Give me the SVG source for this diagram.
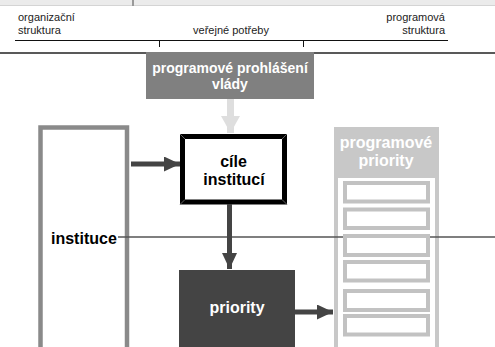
<svg xmlns="http://www.w3.org/2000/svg" width="495" height="347" viewBox="0 0 495 347">
<style>
.lbl{font-family:"Liberation Sans",Arial,sans-serif;font-size:11px;fill:#222}
.b{font-family:"Liberation Sans",Arial,sans-serif;font-weight:bold;font-size:16px}
.s14{font-size:14px}
.w{fill:#fff}
.k{fill:#000}
.item{fill:#fff;stroke:#c2c2c2;stroke-width:4}
</style>
<defs>
<marker id="ad" viewBox="0 0 16 15" refX="16" refY="7.5" markerWidth="16" markerHeight="15" markerUnits="userSpaceOnUse" orient="auto">
<path d="M0,0 L16,7.5 L0,15 Z" fill="#444"/>
</marker>
<marker id="al" viewBox="0 0 17 19" refX="17" refY="9.5" markerWidth="17" markerHeight="19" markerUnits="userSpaceOnUse" orient="auto">
<path d="M0,0 L17,9.5 L0,19 Z" fill="#dedede"/>
</marker>
</defs>
<rect width="495" height="347" fill="#fff"/>
<g id="topbar">
<rect x="0" y="0" width="495" height="5" fill="#ebebeb"/>
<line x1="0" y1="5.5" x2="495" y2="5.5" stroke="#d4d4d4" stroke-width="1"/>
<line x1="133" y1="0" x2="133" y2="6" stroke="#999" stroke-width="2"/>
</g>
<g id="header">
<text class="lbl" x="18" y="21">organizační</text>
<text class="lbl" x="18" y="34">struktura</text>
<text class="lbl" x="231" y="34" text-anchor="middle">veřejné potřeby</text>
<text class="lbl" x="445" y="21" text-anchor="end">programová</text>
<text class="lbl" x="445" y="34" text-anchor="end">struktura</text>
<line x1="15" y1="40.5" x2="448" y2="40.5" stroke="#111" stroke-width="1"/>
<line x1="159.5" y1="40.5" x2="159.5" y2="47" stroke="#111" stroke-width="1"/>
<line x1="303.5" y1="40.5" x2="303.5" y2="47" stroke="#111" stroke-width="1"/>
<line x1="0" y1="53" x2="146" y2="53" stroke="#222" stroke-width="1.5"/>
<line x1="314" y1="53" x2="495" y2="53" stroke="#222" stroke-width="1.5"/>
</g>
<g id="programove-prohlaseni">
<rect x="146" y="52" width="168" height="47" fill="#808080"/>
<text class="b s14 w" x="230" y="73" text-anchor="middle">programové prohlášení</text>
<text class="b s14 w" x="230" y="89" text-anchor="middle">vlády</text>
</g>
<g id="instituce">
<path d="M40.5,349 V127.5 H127 V349" fill="none" stroke="#8a8a8a" stroke-width="4.5"/>
<text class="b k" x="51" y="244">instituce</text>
</g>
<g id="programove-priority">
<rect x="334" y="127" width="105" height="222" fill="#c8c8c8"/>
<rect x="338" y="178" width="97" height="171" fill="#fff"/>
<text class="b w" x="386" y="148" text-anchor="middle">programové</text>
<text class="b w" x="386" y="166" text-anchor="middle">priority</text>
</g>
<g id="divider">
<line x1="118" y1="237" x2="495" y2="237" stroke="#555" stroke-width="1.5"/>
</g>
<g id="priority-items">
<rect class="item" x="345" y="183" width="83" height="18.5"/>
<rect class="item" x="345" y="209.5" width="83" height="18.5"/>
<rect class="item" x="345" y="236" width="83" height="19"/>
<rect class="item" x="345" y="262" width="83" height="18.5"/>
<rect class="item" x="345" y="291" width="83" height="19"/>
<rect class="item" x="345" y="316" width="83" height="18.5"/>
</g>
<g id="cile-instituci">
<rect x="182.5" y="136.5" width="102" height="65.5" fill="#fff" stroke="#000" stroke-width="5"/>
<g stroke="#777" stroke-width="0.8">
<line x1="180" y1="134" x2="185" y2="139"/>
<line x1="287" y1="134" x2="282" y2="139"/>
<line x1="180" y1="204.5" x2="185" y2="199.5"/>
<line x1="287" y1="204.5" x2="282" y2="199.5"/>
</g>
<text class="b k" x="233.5" y="167" text-anchor="middle">cíle</text>
<text class="b k" x="234" y="185" text-anchor="middle">institucí</text>
</g>
<g id="priority">
<rect x="179" y="270" width="116" height="79" fill="#444"/>
<text class="b w" x="237" y="313" text-anchor="middle">priority</text>
</g>
<g id="connectors">
<line x1="230.5" y1="99" x2="230.5" y2="133" stroke="#dedede" stroke-width="7" marker-end="url(#al)"/>
<line x1="131" y1="164" x2="180" y2="164" stroke="#444" stroke-width="5" marker-end="url(#ad)"/>
<line x1="229.5" y1="204" x2="229.5" y2="269" stroke="#444" stroke-width="5" marker-end="url(#ad)"/>
<line x1="295" y1="312" x2="333" y2="312" stroke="#444" stroke-width="5" marker-end="url(#ad)"/>
</g>
</svg>
